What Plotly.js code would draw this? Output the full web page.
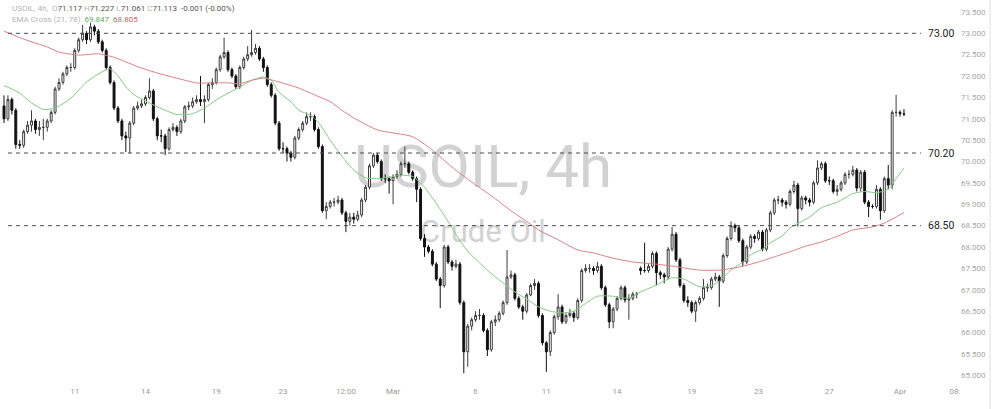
<!DOCTYPE html>
<html>
<head>
<meta charset="utf-8">
<script src="https://cdn.plot.ly/plotly-3.0.1.min.js"></script>
<style>
  html, body { margin: 0; padding: 0; background: #fff; }
  #myDiv { width: 1000px; height: 409px; }
</style>
</head>
<body>
<div id="myDiv"></div>
<script>
// USOIL 4h candles (bar 0 = first visible bar)
const opens = [
  71.30, 71.00, 71.45, 71.20, 70.40, 70.38, 70.70, 70.85, 70.95, 70.75,
  70.80, 70.80, 70.95, 71.15, 71.70, 71.85, 72.05, 72.20, 72.20, 72.60,
  72.85, 73.00, 72.85, 73.15, 73.05, 72.80, 72.60, 72.20, 71.85, 71.25,
  70.95, 70.60, 70.55, 70.90, 71.25, 71.30, 71.35, 71.50, 71.65, 71.00,
  70.60, 70.60, 70.30, 70.75, 70.80, 70.70, 70.95, 71.28, 71.30, 71.40,
  71.45, 71.40, 71.45, 71.80, 71.85, 72.15, 72.45, 72.55, 72.15, 72.00,
  71.75, 72.20, 72.40, 72.50, 72.55, 72.65, 72.40, 72.20, 71.80, 71.55,
  70.90, 70.30, 70.30, 70.20, 70.10, 70.55, 70.75, 70.90, 71.05, 71.05,
  70.75, 70.35, 68.85, 68.95, 69.05, 69.05, 69.10, 68.80, 68.60, 68.70,
  68.65, 68.75, 69.10, 69.40, 69.90, 70.15, 70.00, 69.60, 69.60, 69.55,
  69.65, 69.70, 69.95, 69.95, 69.75, 69.60, 69.35, 68.20, 68.00, 67.90,
  67.60, 67.25, 67.10, 68.00, 67.65, 67.55, 67.60, 66.70, 65.55, 66.15,
  66.30, 66.40, 66.40, 66.05, 65.60, 66.25, 66.30, 66.45, 66.70, 67.30,
  67.35, 66.80, 66.60, 66.50, 66.88, 67.10, 67.15, 66.40, 65.76, 65.55,
  66.00, 66.37, 66.60, 66.25, 66.40, 66.45, 66.35, 66.75, 67.45, 67.50,
  67.50, 67.45, 67.55, 67.05, 66.65, 66.25, 66.55, 66.80, 67.05, 66.76,
  66.80, 66.90, 67.50, 67.45, 67.45, 67.55, 67.85, 67.40, 67.35, 67.30,
  67.95, 68.30, 67.70, 67.10, 66.75, 66.70, 66.50, 66.70, 66.80, 67.05,
  67.05, 67.25, 67.30, 67.20, 67.80, 68.20, 68.50, 68.45, 68.15, 67.65,
  68.00, 68.25, 68.20, 68.35, 67.95, 68.40, 68.80, 69.10, 69.10, 69.05,
  69.00, 69.30, 69.45, 68.90, 69.15, 69.10, 69.05, 69.50, 69.85, 69.95,
  69.55, 69.55, 69.30, 69.35, 69.50, 69.70, 69.70, 69.80, 69.38, 69.75,
  69.05, 68.95, 68.95, 69.35, 68.85, 69.60, 69.45, 71.15, 71.15, 71.117
];
const highs = [
  71.55, 71.55, 71.50, 71.25, 70.50, 70.75, 70.95, 71.20, 71.00, 70.95,
  71.00, 71.00, 71.20, 71.75, 71.95, 72.10, 72.25, 72.30, 72.65, 72.90,
  73.20, 73.05, 73.25, 73.20, 73.10, 72.85, 72.65, 72.25, 71.90, 71.30,
  71.00, 70.70, 70.95, 71.30, 71.40, 71.45, 71.55, 71.95, 71.70, 71.05,
  70.75, 70.65, 70.80, 70.90, 70.85, 71.00, 71.32, 71.40, 71.50, 71.55,
  72.00, 71.55, 71.85, 71.95, 72.20, 72.50, 72.90, 72.60, 72.20, 72.05,
  72.25, 72.45, 72.70, 73.08, 72.75, 72.70, 72.45, 72.25, 71.85, 71.60,
  70.95, 70.45, 70.35, 70.25, 70.60, 70.80, 70.95, 71.15, 71.15, 71.10,
  70.80, 70.40, 69.05, 69.10, 69.15, 69.20, 69.15, 68.85, 68.80, 68.80,
  68.85, 69.15, 69.45, 69.95, 70.20, 70.20, 70.05, 69.70, 69.65, 69.70,
  69.80, 70.00, 70.35, 70.00, 69.80, 69.65, 69.40, 68.30, 68.05, 67.95,
  67.65, 67.30, 68.05, 68.05, 67.70, 67.70, 67.65, 66.75, 66.20, 66.35,
  66.50, 66.55, 66.45, 66.10, 66.30, 66.40, 66.50, 66.75, 67.93, 67.45,
  67.40, 66.85, 66.65, 66.92, 67.15, 67.25, 67.20, 66.45, 65.80, 66.05,
  66.42, 66.90, 66.65, 66.45, 66.55, 66.50, 66.80, 67.50, 67.60, 67.60,
  67.55, 67.65, 67.60, 67.10, 66.70, 66.60, 66.85, 67.10, 67.10, 66.90,
  66.95, 66.95, 67.55, 68.10, 67.60, 67.90, 67.90, 67.45, 67.40, 68.00,
  68.47, 68.35, 67.75, 67.15, 66.85, 66.75, 66.75, 66.85, 67.25, 67.15,
  67.30, 67.40, 67.35, 67.85, 68.25, 68.60, 68.55, 68.50, 68.20, 68.05,
  68.30, 68.30, 68.40, 68.40, 68.45, 68.85, 69.15, 69.20, 69.15, 69.10,
  69.35, 69.55, 69.50, 69.20, 69.20, 69.15, 69.55, 70.03, 70.00, 70.00,
  69.65, 69.60, 69.45, 69.55, 69.75, 69.80, 69.90, 69.85, 69.80, 69.80,
  69.10, 69.00, 69.45, 69.40, 69.65, 69.92, 71.20, 71.56, 71.20, 71.227
];
const lows = [
  70.90, 70.95, 71.10, 70.30, 70.30, 70.32, 70.65, 70.70, 70.65, 70.60,
  70.50, 70.70, 70.90, 71.10, 71.65, 71.80, 72.00, 72.10, 72.15, 72.55,
  72.80, 72.75, 72.80, 72.95, 72.75, 72.55, 72.15, 71.80, 71.20, 70.90,
  70.50, 70.22, 70.20, 70.85, 71.20, 71.25, 71.30, 71.45, 70.95, 70.50,
  70.45, 70.15, 70.25, 70.70, 70.60, 70.65, 70.90, 71.20, 71.25, 71.35,
  71.30, 70.90, 71.40, 71.70, 71.80, 72.10, 72.40, 72.10, 71.95, 71.70,
  71.70, 72.15, 72.35, 72.45, 72.50, 72.35, 72.10, 71.75, 71.50, 70.85,
  70.25, 70.20, 70.00, 70.00, 70.05, 70.50, 70.70, 70.85, 70.95, 70.70,
  70.30, 68.80, 68.65, 68.90, 68.95, 69.00, 68.75, 68.35, 68.50, 68.55,
  68.60, 68.70, 69.05, 69.35, 69.85, 69.95, 69.55, 69.50, 69.25, 69.00,
  69.60, 69.65, 69.85, 69.70, 69.55, 69.05, 68.15, 67.77, 67.85, 67.55,
  67.20, 66.57, 67.05, 67.60, 67.45, 67.50, 66.65, 65.05, 65.20, 66.05,
  66.25, 66.30, 66.00, 65.45, 65.55, 66.15, 66.25, 66.40, 66.65, 67.25,
  66.75, 66.55, 66.30, 66.45, 66.85, 67.00, 66.35, 65.70, 65.08, 65.45,
  65.95, 66.30, 66.20, 66.20, 66.35, 66.25, 66.30, 66.70, 67.40, 67.40,
  67.35, 67.40, 67.00, 66.60, 66.10, 66.10, 66.50, 66.75, 66.70, 66.30,
  66.75, 66.80, 67.35, 67.40, 67.40, 67.50, 67.10, 67.25, 67.15, 67.25,
  67.90, 67.65, 67.05, 66.70, 66.60, 66.45, 66.25, 66.65, 66.75, 66.95,
  67.00, 67.20, 66.60, 67.15, 67.75, 68.15, 68.35, 68.10, 67.55, 67.60,
  67.95, 68.10, 68.15, 67.90, 67.90, 68.35, 68.75, 69.00, 68.95, 68.90,
  68.95, 69.25, 68.48, 68.85, 69.00, 68.95, 69.00, 69.45, 69.80, 69.50,
  69.45, 69.25, 69.20, 69.30, 69.45, 69.60, 69.65, 69.30, 69.30, 69.00,
  68.70, 68.90, 68.90, 68.64, 68.80, 69.35, 69.35, 71.05, 71.05, 71.061
];
const closes = [
  71.00, 71.45, 71.20, 70.40, 70.38, 70.70, 70.85, 70.95, 70.75, 70.80,
  70.80, 70.95, 71.15, 71.70, 71.85, 72.05, 72.20, 72.20, 72.60, 72.85,
  73.00, 72.85, 73.15, 73.05, 72.80, 72.60, 72.20, 71.85, 71.25, 70.95,
  70.60, 70.55, 70.90, 71.25, 71.30, 71.35, 71.50, 71.65, 71.00, 70.60,
  70.60, 70.30, 70.75, 70.80, 70.70, 70.95, 71.28, 71.30, 71.40, 71.45,
  71.40, 71.45, 71.80, 71.85, 72.15, 72.45, 72.55, 72.15, 72.00, 71.75,
  72.20, 72.40, 72.50, 72.55, 72.65, 72.40, 72.20, 71.80, 71.55, 70.90,
  70.30, 70.30, 70.20, 70.10, 70.55, 70.75, 70.90, 71.05, 71.05, 70.75,
  70.35, 68.85, 68.95, 69.05, 69.05, 69.10, 68.80, 68.60, 68.70, 68.65,
  68.75, 69.10, 69.40, 69.90, 70.15, 70.00, 69.60, 69.60, 69.55, 69.65,
  69.70, 69.95, 69.95, 69.75, 69.60, 69.35, 68.20, 68.00, 67.90, 67.60,
  67.25, 67.10, 68.00, 67.65, 67.55, 67.60, 66.70, 65.55, 66.15, 66.30,
  66.40, 66.40, 66.05, 65.60, 66.25, 66.30, 66.45, 66.70, 67.30, 67.35,
  66.80, 66.60, 66.50, 66.88, 67.10, 67.15, 66.40, 65.76, 65.55, 66.00,
  66.37, 66.60, 66.25, 66.40, 66.45, 66.35, 66.75, 67.45, 67.50, 67.50,
  67.45, 67.55, 67.05, 66.65, 66.25, 66.55, 66.80, 67.05, 66.76, 66.80,
  66.90, 66.90, 67.45, 67.45, 67.55, 67.85, 67.40, 67.35, 67.30, 67.95,
  68.30, 67.70, 67.10, 66.75, 66.70, 66.50, 66.70, 66.80, 67.05, 67.05,
  67.25, 67.30, 67.20, 67.80, 68.20, 68.50, 68.45, 68.15, 67.65, 68.00,
  68.25, 68.20, 68.35, 67.95, 68.40, 68.80, 69.10, 69.10, 69.05, 69.00,
  69.30, 69.45, 68.90, 69.15, 69.10, 69.05, 69.50, 69.85, 69.95, 69.55,
  69.55, 69.30, 69.35, 69.50, 69.70, 69.70, 69.80, 69.38, 69.75, 69.05,
  68.95, 68.95, 69.35, 68.85, 69.60, 69.45, 71.15, 71.15, 71.12, 71.113
];

// EMA lines at these bars
const ema21Bars = [0, 4, 7, 10, 13, 17, 21, 25, 27, 29, 31, 33, 37, 41, 44, 48, 51, 54, 57, 60,
  63, 66, 68, 70, 73, 75, 78, 80, 83, 86, 89, 92, 95, 98, 101, 104, 107, 110, 113, 116,
  118, 121, 124, 127, 130, 133, 136, 139, 142, 145, 148, 151, 155, 159, 162, 165, 170, 173, 177, 180,
  182, 185, 188, 190, 193, 195, 198, 200, 203, 205, 208, 212, 216, 219, 222, 225, 227, 229];
const ema21Vals = [71.78, 71.60, 71.37, 71.22, 71.25, 71.48, 71.86, 72.10, 72.17, 72.00, 71.75, 71.57, 71.37, 71.20, 71.10, 71.12, 71.25, 71.44, 71.60, 71.74,
  71.90, 71.98, 71.90, 71.62, 71.40, 71.20, 71.08, 70.92, 70.50, 70.12, 69.80, 69.62, 69.60, 69.63, 69.68, 69.65, 69.40, 69.02, 68.60, 68.15,
  67.90, 67.63, 67.38, 67.16, 66.95, 66.78, 66.60, 66.50, 66.46, 66.50, 66.68, 66.85, 66.85, 66.80, 66.95, 67.07, 67.28, 67.25, 67.07, 67.10,
  67.20, 67.46, 67.65, 67.82, 67.95, 68.10, 68.26, 68.45, 68.60, 68.70, 68.92, 69.05, 69.25, 69.30, 69.27, 69.35, 69.60, 69.847];
const ema78Bars = [0, 4, 7, 11, 14, 19, 24, 28, 31, 34, 39, 44, 49, 54, 57, 60, 63, 66, 70, 75,
  79, 83, 86, 89, 95, 104, 109, 114, 119, 124, 129, 133, 136, 141, 146, 150, 155, 160, 166, 171,
  177, 182, 187, 192, 196, 200, 204, 208, 212, 216, 221, 224, 229];
const ema78Vals = [73.05, 72.90, 72.80, 72.68, 72.56, 72.49, 72.52, 72.44, 72.33, 72.22, 72.07, 71.95, 71.84, 71.84, 71.84, 71.82, 71.90, 71.95, 71.86, 71.72,
  71.56, 71.40, 71.20, 71.02, 70.74, 70.58, 70.27, 69.87, 69.52, 69.20, 68.85, 68.60, 68.40, 68.17, 67.93, 67.86, 67.74, 67.65, 67.60, 67.54,
  67.46, 67.46, 67.53, 67.65, 67.77, 67.89, 68.02, 68.12, 68.25, 68.40, 68.47, 68.56, 68.805];

// drawn horizontal levels
const levels = [73.00, 70.20, 68.50];
const levelText = ['73.00', '70.20', '68.50'];

// time axis labels (bar where the label sits) and price ticks
const dayTickBars = [18, 36, 54, 71, 87, 99, 120, 138, 156, 175, 192, 210, 228, 242];
const dayTickText = ['11', '14', '19', '23', '12:00', 'Mar', '6', '11', '14', '19', '23', '27', 'Apr', '08:'];
const priceTicks = [65, 65.5, 66, 66.5, 67, 67.5, 68, 68.5, 69, 69.5, 70, 70.5, 71, 71.5, 72, 72.5, 73, 73.5];

const barIdx = closes.map((v, i) => i);

const candles = {
  type: 'candlestick',
  x: barIdx,
  open: opens,
  high: highs,
  low: lows,
  close: closes,
  whiskerwidth: 0,
  increasing: {line: {color: '#3c3c3c', width: 1}, fillcolor: '#ffffff'},
  decreasing: {line: {color: '#111111', width: 1}, fillcolor: '#111111'},
  hoverinfo: 'skip'
};

const ema21 = {
  type: 'scatter', mode: 'lines',
  x: ema21Bars, y: ema21Vals,
  line: {color: '#86c786', width: 1, shape: 'spline', smoothing: 0.6},
  hoverinfo: 'skip'
};

const ema78 = {
  type: 'scatter', mode: 'lines',
  x: ema78Bars, y: ema78Vals,
  line: {color: '#d98088', width: 1, shape: 'spline', smoothing: 0.6},
  hoverinfo: 'skip'
};

const shapes = [];
const annotations = [];

levels.forEach((lv, k) => {
  shapes.push({
    type: 'line', xref: 'paper', yref: 'y',
    x0: 8 / 960, x1: 921 / 960, y0: lv, y1: lv,
    line: {color: '#4a4a4a', width: 1, dash: '4px,4px'}
  });
  annotations.push({
    xref: 'paper', yref: 'y', x: 926 / 960, y: lv,
    xanchor: 'left', yanchor: 'middle', showarrow: false,
    text: levelText[k],
    font: {family: 'Roboto', size: 10.5, color: '#222'}
  });
});

// watermark, under the candles
shapes.push({
  type: 'rect', xref: 'paper', yref: 'paper', layer: 'below',
  x0: 330 / 960, x1: 636 / 960, y0: (385 - 200) / 385, y1: (385 - 124) / 385,
  line: {width: 0}, fillcolor: 'rgba(0,0,0,0)',
  label: {text: 'USOIL, 4h', textposition: 'middle center', padding: 0,
    font: {family: 'Roboto', size: 60, color: '#d2d2d2'}}
});
shapes.push({
  type: 'rect', xref: 'paper', yref: 'paper', layer: 'below',
  x0: 400 / 960, x1: 566 / 960, y0: (385 - 248) / 385, y1: (385 - 210) / 385,
  line: {width: 0}, fillcolor: 'rgba(0,0,0,0)',
  label: {text: 'Crude Oil', textposition: 'middle center', padding: 0,
    font: {family: 'Roboto', size: 31, color: '#d2d2d2'}}
});

// price scale border
shapes.push({
  type: 'line', xref: 'paper', yref: 'paper',
  x0: 990 / 960, x1: 990 / 960, y0: -24 / 385, y1: 1,
  line: {color: '#e0e0e0', width: 1}
});

const lite = '#b4b4b4';
const dark = '#555555';
annotations.push({
  xref: 'paper', yref: 'paper', x: 10 / 960, y: (385 - 8) / 385,
  xanchor: 'left', yanchor: 'middle', showarrow: false,
  font: {family: 'Roboto', size: 8, color: dark},
  text: `<span style="color:${lite}">USOIL, 4h,  O</span>71.117 <span style="color:${lite}">H</span>71.227 ` +
        `<span style="color:${lite}">L</span>71.061 <span style="color:${lite}">C</span>71.113  -0.001 (-0.00%)`
});
annotations.push({
  xref: 'paper', yref: 'paper', x: 10 / 960, y: (385 - 19) / 385,
  xanchor: 'left', yanchor: 'middle', showarrow: false,
  font: {family: 'Roboto', size: 8, color: lite},
  text: `EMA Cross (21, 78)  <span style="color:#5fae5f">69.847</span>  <span style="color:#d0606c">68.805</span>`
});

const layout = {
  width: 1000,
  height: 409,
  margin: {l: 0, r: 40, t: 0, b: 24},
  paper_bgcolor: '#ffffff',
  plot_bgcolor: '#ffffff',
  showlegend: false,
  xaxis: {
    range: [-1.02, 243.26],
    rangeslider: {visible: false},
    showgrid: false, zeroline: false, showline: false,
    tickmode: 'array', tickvals: dayTickBars, ticktext: dayTickText,
    ticks: '',
    tickfont: {family: 'Roboto', size: 8, color: '#9a9a9a'},
    fixedrange: true
  },
  yaxis: {
    side: 'right',
    range: [64.773, 73.779],
    showgrid: false, zeroline: false, showline: false,
    tickmode: 'array', tickvals: priceTicks, tickformat: '.3f',
    ticks: '',
    tickfont: {family: 'Roboto', size: 8, color: '#a6a6a6'},
    fixedrange: true
  },
  shapes: shapes,
  annotations: annotations
};

Plotly.newPlot('myDiv', [candles, ema21, ema78], layout, {staticPlot: true, displayModeBar: false});
</script>
</body>
</html>
